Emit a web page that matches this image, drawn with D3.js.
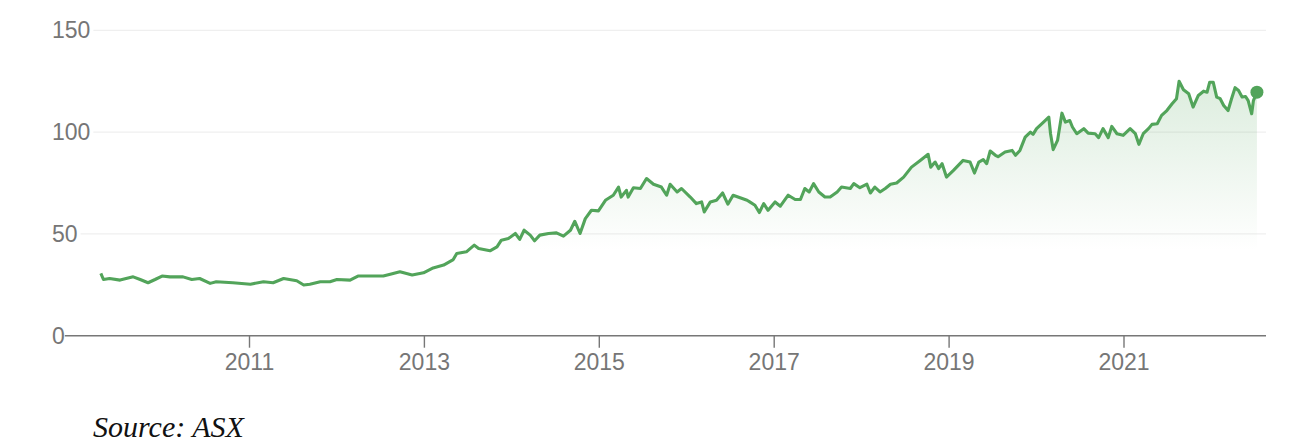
<!DOCTYPE html>
<html>
<head>
<meta charset="utf-8">
<script src="https://cdn.jsdelivr.net/npm/d3@7"></script>
<style>
  html, body { margin: 0; padding: 0; background: #fff; }
  svg { display: block; }
</style>
</head>
<body>
<svg id="chart" width="1294" height="446"></svg>
<script>
// Decimal years and index values
const years = [
  2009.30, 2009.33, 2009.40, 2009.52, 2009.67, 2009.75, 2009.84, 2009.92, 2010.00, 2010.09,
  2010.24, 2010.34, 2010.43, 2010.55, 2010.62, 2010.81, 2011.01, 2011.16, 2011.27, 2011.39,
  2011.54, 2011.62, 2011.69, 2011.81, 2011.92, 2012.00, 2012.15, 2012.24, 2012.34, 2012.53,
  2012.61, 2012.72, 2012.86, 2012.99, 2013.10, 2013.22, 2013.33, 2013.37, 2013.48, 2013.57,
  2013.62, 2013.75, 2013.83, 2013.88, 2013.96, 2014.04, 2014.09, 2014.14, 2014.21, 2014.26,
  2014.32, 2014.42, 2014.51, 2014.59, 2014.67, 2014.72, 2014.78, 2014.84, 2014.91, 2014.99,
  2015.07, 2015.16, 2015.22, 2015.25, 2015.31, 2015.33, 2015.39, 2015.47, 2015.54, 2015.62,
  2015.71, 2015.77, 2015.81, 2015.89, 2015.94, 2016.04, 2016.11, 2016.17, 2016.20, 2016.27,
  2016.34, 2016.41, 2016.47, 2016.53, 2016.69, 2016.72, 2016.78, 2016.83, 2016.88, 2016.93,
  2017.01, 2017.07, 2017.16, 2017.24, 2017.30, 2017.35, 2017.40, 2017.45, 2017.51, 2017.58,
  2017.64, 2017.72, 2017.77, 2017.87, 2017.91, 2017.98, 2018.06, 2018.10, 2018.15, 2018.21,
  2018.27, 2018.33, 2018.40, 2018.48, 2018.57, 2018.67, 2018.76, 2018.79, 2018.84, 2018.88,
  2018.92, 2018.97, 2019.05, 2019.16, 2019.24, 2019.29, 2019.34, 2019.39, 2019.43, 2019.47,
  2019.53, 2019.56, 2019.64, 2019.72, 2019.76, 2019.81, 2019.87, 2019.93, 2019.96, 2020.00,
  2020.08, 2020.14, 2020.16, 2020.19, 2020.24, 2020.29, 2020.33, 2020.38, 2020.41, 2020.46,
  2020.54, 2020.59, 2020.67, 2020.71, 2020.76, 2020.82, 2020.86, 2020.92, 2020.99, 2021.07,
  2021.13, 2021.17, 2021.22, 2021.28, 2021.32, 2021.38, 2021.43, 2021.49, 2021.55, 2021.60,
  2021.63, 2021.68, 2021.74, 2021.79, 2021.85, 2021.91, 2021.95, 2021.98, 2022.02, 2022.06,
  2022.10, 2022.14, 2022.19, 2022.23, 2022.27, 2022.31, 2022.35, 2022.39, 2022.42, 2022.46,
  2022.48, 2022.52
];
const values = [
  30.6, 27.6, 28.1, 27.3, 28.9, 27.6, 26.0, 27.6, 29.3, 28.9,
  28.9, 27.6, 28.1, 25.7, 26.5, 26.0, 25.3, 26.5, 26.0, 28.1,
  27.0, 24.9, 25.3, 26.5, 26.5, 27.6, 27.3, 29.3, 29.3, 29.3,
  30.2, 31.4, 29.8, 30.9, 33.3, 34.7, 37.4, 40.4, 41.2, 44.5,
  42.8, 41.7, 43.6, 46.9, 47.7, 50.2, 47.3, 51.8, 49.4, 46.6,
  49.4, 50.2, 50.5, 48.9, 51.8, 56.2, 50.2, 57.5, 61.6, 61.3,
  66.5, 69.0, 73.0, 68.1, 71.4, 68.1, 72.7, 72.3, 77.2, 74.4,
  73.0, 69.0, 74.4, 70.6, 72.3, 68.1, 64.9, 65.7, 60.8, 65.7,
  66.5, 70.1, 64.6, 69.0, 66.5, 65.7, 64.1, 60.5, 64.9, 61.6,
  65.7, 63.6, 69.0, 66.9, 66.9, 72.3, 70.6, 74.7, 70.6, 68.1,
  68.1, 70.6, 73.0, 72.3, 74.7, 72.7, 74.4, 70.1, 73.0, 70.6,
  72.3, 74.4, 75.0, 77.9, 82.8, 86.1, 89.1, 82.8, 85.3, 82.1,
  84.5, 77.9, 81.2, 86.1, 85.3, 79.9, 85.3, 86.5, 84.5, 90.7,
  88.6, 87.9, 90.2, 91.0, 88.6, 91.0, 97.5, 100.0, 98.9, 101.7,
  104.9, 107.4, 99.2, 91.4, 95.9, 109.3, 104.9, 105.7, 102.5, 99.2,
  101.7, 99.5, 99.2, 97.3, 101.7, 97.3, 102.8, 99.2, 98.4, 101.7,
  99.2, 94.0, 99.2, 101.7, 103.8, 104.1, 108.2, 110.6, 113.9, 116.4,
  125.0, 120.8, 118.8, 112.3, 118.0, 120.1, 119.6, 124.5, 124.5, 117.2,
  116.4, 113.1, 110.6, 116.4, 121.8, 120.4, 117.2, 117.5, 115.5, 109.0,
  115.5, 119.6
];
const xTickYears = [2011, 2013, 2015, 2017, 2019, 2021];
const yTickValues = [0, 50, 100, 150];
const sourceLabel = "Source: ASX";

const data = years.map((t, i) => ({ t, v: values[i] }));

const svg = d3.select("#chart");
const green = "#52a45a";
const textColor = "#767676";
const xRight = 1266;

const x = d3.scaleLinear().domain([2011, 2021]).range([249.5, 1124]);
const y = d3.scaleLinear().domain([0, 150]).range([335.7, 30.3]);

// gradient
const defs = svg.append("defs");
const grad = defs.append("linearGradient")
  .attr("id", "fillGrad")
  .attr("gradientUnits", "userSpaceOnUse")
  .attr("x1", 0).attr("x2", 0)
  .attr("y1", y(125)).attr("y2", y(42));
grad.append("stop").attr("offset", 0).attr("stop-color", green).attr("stop-opacity", 0.2);
grad.append("stop").attr("offset", 1).attr("stop-color", green).attr("stop-opacity", 0);

// y labels + gridlines
const yg = svg.append("g");
yTickValues.forEach(v => {
  const lbl = yg.append("text")
    .attr("x", 52)
    .attr("y", y(v) + 8)
    .attr("fill", textColor)
    .attr("font-family", "'Liberation Sans', Arial, sans-serif")
    .attr("font-size", 23)
    .text(v);
  const w = lbl.node().getComputedTextLength();
  if (v !== 0) {
    yg.append("line")
      .attr("x1", 52 + w + 3).attr("x2", xRight)
      .attr("y1", y(v)).attr("y2", y(v))
      .attr("stroke", "#efefef").attr("stroke-width", 1.2);
  } else {
    yg.append("line")
      .attr("x1", 52 + w).attr("x2", xRight)
      .attr("y1", y(0)).attr("y2", y(0))
      .attr("stroke", "#777").attr("stroke-width", 1.6);
  }
});

// area
const area = d3.area().x(d => x(d.t)).y0(y(0)).y1(d => y(d.v));
svg.append("path").datum(data)
  .attr("d", area)
  .attr("fill", "url(#fillGrad)");

// line
const line = d3.line().x(d => x(d.t)).y(d => y(d.v));
svg.append("path").datum(data)
  .attr("d", line)
  .attr("fill", "none")
  .attr("stroke", green)
  .attr("stroke-width", 3.1)
  .attr("stroke-linejoin", "round");

// end dot
const last = data[data.length - 1];
svg.append("circle")
  .attr("cx", x(last.t)).attr("cy", y(last.v))
  .attr("r", 6.5).attr("fill", green);

// x axis ticks and labels
const xg = svg.append("g");
xTickYears.forEach(t => {
  xg.append("line")
    .attr("x1", x(t)).attr("x2", x(t))
    .attr("y1", y(0)).attr("y2", y(0) + 12)
    .attr("stroke", "#777").attr("stroke-width", 1.4);
  xg.append("text")
    .attr("x", x(t)).attr("y", 370)
    .attr("text-anchor", "middle")
    .attr("fill", textColor)
    .attr("font-family", "'Liberation Sans', Arial, sans-serif")
    .attr("font-size", 23)
    .text(t);
});

// source
svg.append("text")
  .attr("x", 93).attr("y", 437)
  .attr("fill", "#111")
  .attr("font-family", "'Liberation Serif', 'Times New Roman', serif")
  .attr("font-style", "italic")
  .attr("font-size", 30)
  .text(sourceLabel);
</script>
</body>
</html>
